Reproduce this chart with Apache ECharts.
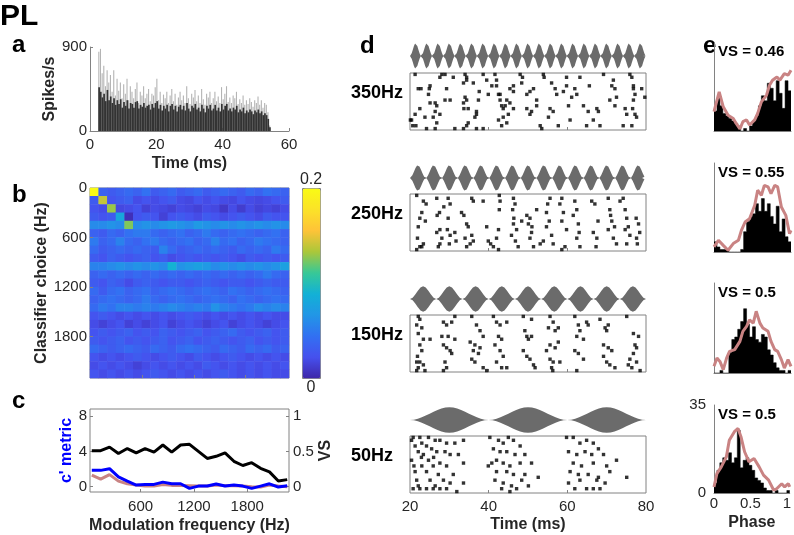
<!DOCTYPE html>
<html>
<head>
<meta charset="utf-8">
<script src="https://cdn.jsdelivr.net/npm/echarts@6/dist/echarts.min.js"></script>
<style>
  html, body { margin: 0; padding: 0; background: #fff; }
  #chart { width: 794px; height: 535px; }
</style>
</head>
<body>
<div id="chart"></div>
<script>
// ---------- data ----------

// a: PSTH, 0.5 ms bins starting at 2.5 ms
const psthStart = 2.5
const psthBin = 0.5
const psthPeak = [
  850, 880, 620, 700, 480, 650, 520, 600, 420, 650,
  380, 560, 430, 520, 350, 500, 400, 560, 330, 480,
  420, 350, 450, 520, 300, 420, 380, 480, 350, 400,
  450, 320, 400, 380, 470, 560, 330, 420, 300, 390,
  350, 420, 300, 380, 450, 320, 400, 280, 360, 420,
  330, 380, 300, 480, 350, 290, 400, 360, 440, 320,
  380, 300, 450, 340, 280, 400, 360, 420, 300, 350,
  420, 320, 370, 300, 470, 340, 400, 480, 310, 360,
  300, 380, 350, 420, 290, 340, 300, 380, 280, 330,
  290, 350, 310, 260, 330, 300, 370, 280, 330, 250,
  300, 280, 200, 60
]
const psthBody = [
  470, 420, 360, 400, 320, 440, 330, 370, 300, 350,
  280, 330, 290, 340, 250, 310, 270, 330, 240, 300,
  290, 250, 310, 320, 240, 280, 260, 300, 250, 270,
  280, 230, 290, 250, 300, 320, 240, 280, 220, 270,
  240, 280, 210, 270, 290, 230, 270, 210, 260, 280,
  230, 270, 220, 300, 240, 210, 270, 250, 290, 230,
  250, 210, 280, 240, 200, 270, 240, 280, 220, 240,
  280, 220, 250, 210, 290, 230, 270, 290, 220, 240,
  210, 250, 230, 270, 200, 230, 210, 250, 190, 220,
  200, 230, 210, 180, 220, 200, 230, 190, 210, 170,
  190, 170, 130, 40
]

// b: classifier confusion matrix (rows = classifier choice, cols = modulation freq)
const modFreqs = [50, 150, 250, 350, 450, 550, 650, 750, 850, 950, 1050, 1150,
  1250, 1350, 1450, 1550, 1650, 1750, 1850, 1950, 2050, 2150, 2250]
const confusion = [
  [.20, .035, .03, .035, .04, .035, .045, .03, .035, .04, .03, .035, .04, .03, .035, .04, .035, .03, .04, .035, .045, .04, .035],
  [.03, .14, .025, .03, .035, .02, .025, .02, .025, .03, .02, .018, .025, .02, .025, .02, .018, .025, .02, .018, .02, .025, .03],
  [.025, .02, .13, .018, .02, .025, .015, .02, .018, .015, .02, .018, .015, .02, .018, .01, .02, .012, .02, .015, .018, .015, .02],
  [.03, .025, .03, .08, .005, .025, .03, .025, .015, .025, .03, .025, .02, .03, .025, .02, .025, .03, .025, .02, .03, .025, .025],
  [.06, .06, .065, .06, .125, .06, .065, .06, .065, .07, .065, .06, .07, .065, .06, .065, .06, .065, .06, .065, .06, .065, .06],
  [.035, .03, .04, .035, .045, .05, .05, .04, .035, .04, .045, .035, .04, .05, .04, .035, .04, .045, .04, .035, .04, .045, .035],
  [.05, .035, .04, .055, .04, .035, .045, .05, .04, .035, .04, .045, .035, .04, .055, .04, .045, .035, .04, .05, .045, .04, .035],
  [.04, .03, .035, .04, .035, .04, .035, .03, .055, .04, .03, .035, .04, .035, .04, .035, .03, .04, .035, .04, .035, .05, .04],
  [.03, .025, .035, .03, .025, .03, .035, .025, .03, .02, .025, .03, .025, .03, .025, .03, .025, .02, .03, .025, .03, .025, .03],
  [.055, .055, .06, .065, .06, .065, .06, .065, .06, .09, .065, .07, .075, .07, .06, .065, .06, .065, .06, .065, .06, .065, .075],
  [.035, .04, .035, .04, .035, .04, .035, .04, .035, .04, .035, .04, .035, .04, .035, .04, .035, .04, .035, .04, .05, .04, .035],
  [.03, .025, .035, .03, .02, .03, .035, .03, .025, .03, .03, .025, .03, .035, .03, .025, .03, .03, .025, .03, .035, .03, .03],
  [.04, .03, .04, .045, .035, .04, .045, .035, .04, .045, .04, .035, .04, .045, .04, .035, .045, .04, .035, .04, .045, .04, .035],
  [.035, .04, .045, .04, .035, .04, .05, .04, .035, .04, .045, .04, .035, .04, .045, .04, .035, .045, .04, .035, .04, .045, .04],
  [.04, .05, .045, .055, .055, .05, .055, .05, .055, .06, .055, .05, .055, .05, .065, .055, .05, .045, .05, .06, .055, .06, .055],
  [.025, .03, .025, .02, .025, .02, .025, .02, .025, .02, .025, .03, .025, .02, .025, .02, .025, .02, .025, .02, .025, .02, .02],
  [.02, .015, .02, .025, .015, .02, .015, .02, .025, .015, .02, .025, .02, .015, .02, .025, .015, .02, .025, .02, .015, .02, .025],
  [.025, .03, .025, .03, .035, .025, .03, .025, .035, .03, .025, .03, .035, .025, .03, .035, .04, .03, .025, .03, .035, .025, .03],
  [.03, .025, .03, .035, .025, .03, .025, .03, .035, .025, .03, .035, .025, .03, .035, .03, .025, .03, .035, .025, .03, .025, .03],
  [.04, .035, .03, .035, .04, .035, .03, .04, .035, .03, .04, .045, .04, .035, .03, .04, .035, .03, .04, .035, .04, .03, .035],
  [.025, .02, .025, .02, .025, .03, .025, .02, .025, .03, .025, .02, .03, .025, .02, .025, .03, .025, .02, .025, .02, .025, .02],
  [.02, .025, .02, .025, .02, .015, .02, .025, .02, .025, .02, .025, .02, .03, .025, .02, .025, .02, .025, .02, .025, .02, .025],
  [.025, .02, .025, .02, .025, .02, .025, .03, .025, .02, .025, .02, .025, .02, .025, .03, .025, .02, .025, .02, .025, .02, .02]
]

// c: c' metric (blue), shuffled (pink), vector strength (black)
const cMetric = [1.85, 1.85, 2.04, 1.11, 0.63, 0.19, 0.26, 0.26, 0.52, 0.33, 0.33, -0.19,
  0.07, 0.07, 0.3, 0.07, 0.19, 0.07, -0.19, 0.07, 0.33, -0.04, 0.11]
const cShuffled = [1.3, 0.85, 1.37, 0.63, 0.33, 0.19, 0.07, 0.07, 0.26, 0.15, 0.15, 0.11,
  0.07, 0.07, 0.19, 0.11, 0.11, 0.07, 0, -0.04, 0.19, 0.07, 0]
const vsCurve = [0.51, 0.51, 0.56, 0.47, 0.54, 0.48, 0.54, 0.49, 0.59, 0.49, 0.59, 0.6,
  0.5, 0.4, 0.43, 0.48, 0.36, 0.3, 0.34, 0.26, 0.21, 0.08, 0.1]

// d: stimulus envelopes and spike rasters, [time ms, trial]
const rasterLabels = ['350Hz', '250Hz', '150Hz', '50Hz']
const envFreqs = [350, 250, 150, 50]
const envCycle = [0, 0.02, 0.1, 0.21, 0.35, 0.5, 0.65, 0.79, 0.9, 0.98, 1,
  0.98, 0.9, 0.79, 0.65, 0.5, 0.35, 0.21, 0.1, 0.02]
const raster350 = [
  [21.3, 1], [22.1, 6], [22.8, 6], [24.9, 6], [24.7, 8], [25.1, 5], [22.5, 13], [21.3, 15], [20.4, 17],
  [21.5, 19], [20.7, 19], [24.2, 20], [23.8, 16], [25.1, 11], [26.4, 11], [26.4, 14], [27.6, 2], [28.9, 1],
  [28.1, 1], [29.3, 6], [31.0, 2], [30.2, 10], [28.9, 10], [26.8, 12], [25.9, 16], [27.6, 15], [26.8, 18],
  [26.4, 20], [31.4, 20], [34.0, 1], [34.4, 2], [33.6, 4], [34.4, 3], [36.1, 4], [34.0, 9], [34.4, 10],
  [33.6, 11], [33.7, 13], [34.8, 13], [36.9, 14], [36.9, 15], [36.5, 16], [37.6, 7], [37.4, 10], [38.6, 1],
  [39.5, 3], [39.9, 8], [40.8, 5], [38.6, 20], [36.9, 20], [34.8, 18], [33.6, 20], [34.4, 19], [41.6, 1],
  [42.0, 3], [42.0, 5], [42.5, 8], [42.9, 8], [42.9, 10], [43.3, 12], [43.7, 13], [44.2, 12], [45.4, 11],
  [46.3, 13], [45.0, 15], [43.7, 16], [42.5, 17], [44.6, 18], [43.3, 19], [45.4, 6], [46.3, 7], [44.6, 10],
  [46.3, 5], [48.0, 1], [48.6, 2], [48.4, 4], [49.7, 8], [50.5, 7], [49.7, 13], [50.9, 14], [50.5, 15],
  [52.2, 10], [52.2, 12], [51.4, 6], [53.9, 1], [54.1, 2], [56.0, 4], [56.9, 6], [57.3, 8], [55.6, 13],
  [56.4, 14], [53.1, 19], [53.5, 20], [55.2, 16], [57.7, 19], [59.8, 2], [59.8, 5], [59.0, 7], [60.3, 12],
  [61.9, 6], [62.4, 8], [61.1, 9], [60.7, 17], [63.2, 2], [65.6, 5], [64.1, 12], [65.3, 14], [64.9, 19],
  [66.6, 17], [67.5, 13], [67.9, 14], [68.3, 19], [69.2, 1], [70.8, 10], [71.7, 3], [71.3, 5], [72.1, 6],
  [72.5, 9], [72.1, 12], [74.7, 13], [75.1, 15], [74.2, 19], [75.9, 1], [76.4, 2], [76.8, 5], [76.8, 6],
  [77.2, 8], [76.8, 10], [76.6, 13], [77.2, 15], [77.6, 16], [76.4, 19], [78.9, 6], [79.7, 9], [20.1, 17]
]
const raster250 = [
  [21.7, 1], [23.4, 3], [24.1, 4], [23.0, 7], [22.5, 9], [22.1, 12], [21.9, 16], [22.5, 19], [21.7, 20],
  [23.0, 19], [23.4, 18], [26.8, 2], [27.5, 7], [26.9, 8], [27.6, 13], [26.8, 14], [28.1, 16], [27.6, 18],
  [27.2, 19], [29.7, 2], [30.2, 4], [29.7, 9], [29.5, 13], [30.2, 15], [30.0, 18], [31.4, 14], [31.7, 17],
  [33.1, 7], [33.7, 8], [34.4, 11], [34.8, 12], [35.7, 2], [36.1, 3], [35.7, 15], [36.1, 17], [35.3, 18],
  [34.4, 19], [38.6, 3], [39.5, 12], [39.9, 17], [40.5, 18], [41.2, 19], [42.0, 16], [42.5, 20], [42.7, 1],
  [42.9, 3], [42.7, 6], [42.5, 13], [46.3, 2], [46.7, 4], [46.1, 6], [46.4, 9], [46.3, 11], [47.1, 13],
  [45.8, 15], [47.5, 19], [48.4, 10], [49.7, 8], [50.5, 9], [50.1, 11], [50.9, 14], [50.5, 16], [51.4, 19],
  [52.2, 6], [53.1, 18], [54.7, 7], [55.4, 10], [54.7, 12], [56.0, 15], [53.9, 17], [56.4, 18], [55.6, 2],
  [58.6, 2], [58.1, 4], [59.0, 7], [58.6, 10], [59.8, 13], [59.4, 19], [58.6, 20], [61.9, 3], [62.4, 6],
  [61.5, 8], [62.8, 11], [62.4, 16], [63.2, 19], [66.2, 3], [67.0, 4], [66.6, 14], [67.5, 16], [67.3, 19],
  [70.4, 2], [70.8, 6], [71.0, 8], [71.3, 10], [70.4, 13], [71.7, 16], [72.5, 18], [73.4, 3], [74.7, 6],
  [75.1, 9], [75.5, 12], [74.7, 13], [75.9, 15], [77.5, 9], [78.1, 11], [77.6, 16], [77.8, 18], [75.1, 18],
  [74.2, 2], [23.9, 10], [28.6, 5], [34.0, 16], [46.8, 17], [51.0, 12], [55.0, 4], [63.0, 14], [67.8, 10],
  [72.0, 12], [78.4, 14]
]
const raster150 = [
  [22.1, 1], [22.5, 2], [21.7, 4], [23.0, 5], [22.1, 7], [23.4, 9], [25.1, 9], [22.5, 11], [23.0, 13],
  [21.9, 15], [21.7, 17], [22.5, 17], [22.1, 19], [23.4, 18], [23.8, 20], [21.7, 20], [28.5, 3], [29.3, 4],
  [30.6, 3], [28.1, 8], [29.7, 8], [31.4, 9], [28.5, 11], [29.3, 12], [30.2, 13], [30.6, 14], [28.9, 17],
  [29.3, 19], [28.5, 20], [31.4, 1], [35.7, 1], [36.9, 4], [37.8, 6], [38.6, 8], [35.3, 10], [36.5, 11],
  [37.8, 12], [36.1, 13], [37.4, 14], [35.7, 16], [36.5, 17], [38.6, 19], [39.5, 20], [41.2, 1], [42.0, 3],
  [42.9, 4], [44.6, 3], [42.5, 8], [43.3, 9], [41.6, 11], [42.9, 13], [43.7, 15], [42.0, 17], [43.3, 19],
  [44.6, 19], [48.8, 1], [49.2, 6], [49.7, 8], [50.9, 8], [50.1, 9], [48.8, 13], [49.7, 15], [50.5, 16],
  [51.4, 18], [51.8, 19], [50.9, 2], [55.6, 1], [56.4, 3], [55.2, 5], [56.9, 6], [57.7, 5], [55.6, 11],
  [56.9, 12], [57.7, 10], [55.6, 16], [56.4, 17], [56.0, 19], [56.3, 20], [58.1, 17], [54.7, 13], [61.9, 1],
  [62.8, 4], [63.2, 6], [64.9, 3], [62.4, 8], [64.1, 9], [61.9, 13], [62.8, 14], [64.1, 16], [62.4, 20],
  [65.3, 4], [68.3, 2], [69.6, 5], [70.0, 6], [70.4, 4], [69.2, 11], [70.4, 12], [71.3, 13], [69.2, 15],
  [70.0, 17], [72.1, 19], [70.8, 18], [75.1, 1], [76.8, 7], [78.1, 8], [77.2, 11], [77.6, 12], [76.8, 14],
  [75.9, 16], [77.6, 17], [76.4, 19], [78.5, 20], [75.5, 18]
]
const raster50 = [
  [20.8, 1], [22.5, 1], [24.7, 1], [26.4, 2], [27.6, 2], [29.3, 3], [31.4, 3], [33.6, 2], [21.3, 4], [23.0, 3],
  [24.2, 4], [25.5, 5], [22.1, 6], [23.4, 7], [26.8, 6], [28.9, 6], [30.2, 7], [32.3, 7], [20.4, 9], [24.7, 9],
  [27.6, 10], [23.0, 11], [25.9, 11], [29.3, 11], [33.6, 10], [21.3, 13], [24.2, 13], [27.2, 14], [31.0, 14],
  [21.7, 16], [25.1, 16], [28.5, 16], [30.2, 17], [33.6, 17], [20.8, 19], [22.5, 19], [24.2, 19], [25.9, 19],
  [27.6, 19], [29.3, 19], [31.9, 20], [22.1, 18], [26.4, 18], [20.4, 2], [22.9, 8], [26.0, 8], [21.0, 11],
  [40.3, 1], [42.5, 2], [43.7, 3], [45.0, 1], [46.3, 2], [48.0, 4], [41.2, 5], [42.9, 6], [44.6, 6], [46.7, 7],
  [49.2, 7], [42.0, 9], [40.8, 10], [43.7, 10], [45.4, 11], [48.0, 10], [50.9, 10], [42.0, 13], [44.6, 13],
  [46.3, 14], [49.2, 14], [52.6, 15], [41.6, 16], [43.7, 17], [45.8, 18], [48.4, 16], [43.3, 19], [45.4, 20],
  [47.1, 19], [50.1, 18], [39.9, 11],
  [59.8, 1], [61.5, 1], [63.2, 3], [64.9, 2], [66.6, 3], [67.9, 5], [60.3, 6], [62.4, 7], [64.5, 6], [66.2, 7],
  [69.2, 7], [61.5, 10], [63.6, 11], [66.6, 10], [70.0, 11], [72.5, 9], [60.7, 13], [62.8, 14], [65.3, 14],
  [67.9, 15], [70.8, 13], [75.1, 15], [60.3, 17], [61.9, 19], [64.9, 19], [66.6, 19], [68.3, 19], [69.6, 17],
  [63.2, 16], [67.5, 16]
]
const rasters = [raster350, raster250, raster150, raster50]

// e: phase histograms (bin left edges, 0.04 wide) and smoothed fits
const phaseEdges = [0, 0.04, 0.08, 0.12, 0.16, 0.2, 0.24, 0.28, 0.32, 0.36, 0.4, 0.44, 0.48,
  0.52, 0.56, 0.6, 0.64, 0.68, 0.72, 0.76, 0.8, 0.84, 0.88, 0.92, 0.96, 1.0, 1.04]
const phaseHist350 = [8, 13, 10, 7, 6, 5, 4, 3, 2, 0, 1, 0, 2, 4, 6, 10, 14, 12, 19, 17, 12, 20, 15, 9, 20, 16]
const phaseHist250 = [4, 2, 1, 1, 1, 0, 0, 0, 0, 1, 8, 12, 14, 15, 19, 16, 21, 16, 19, 14, 11, 18, 8, 13, 6, 4]
const phaseHist150 = [0, 0, 1, 0, 0, 8, 13, 14, 17, 20, 25, 19, 14, 18, 13, 12, 15, 14, 9, 7, 4, 2, 1, 1, 0, 1]
const phaseHist50 = [4, 9, 12, 14, 13, 16, 12, 14, 25, 10, 13, 14, 11, 9, 6, 5, 4, 2, 1, 1, 0, 1, 0, 0, 0, 1]
const phaseFit350 = [[0, 7.7], [0.07, 15.6], [0.125, 9.6], [0.19, 6.3], [0.26, 5], [0.3, 3], [0.35, 0.8],
  [0.39, 3.7], [0.44, 4.4], [0.48, 2.4], [0.55, 4.4], [0.59, 7], [0.64, 11.6], [0.71, 14.3], [0.75, 18.2],
  [0.79, 20.2], [0.85, 21.5], [0.89, 20.2], [0.95, 22.8], [1.0, 22.2], [1.04, 24.2]]
const phaseFit250 = [[0, 2], [0.06, 4.6], [0.125, 2.6], [0.19, 0.7], [0.26, 3.3], [0.33, 4.6], [0.37, 8.5],
  [0.42, 11.8], [0.48, 13.1], [0.55, 18.4], [0.59, 24.3], [0.64, 22.3], [0.68, 26.2], [0.73, 25.6],
  [0.77, 22.9], [0.82, 26.2], [0.86, 25.6], [0.91, 17.7], [0.97, 14.4], [1.02, 7.2], [1.04, 8.5]]
const phaseFit150 = [[0, 2.6], [0.04, 5.8], [0.08, 4.5], [0.125, 1.3], [0.17, 5.8], [0.21, 8.4], [0.28, 9.1],
  [0.35, 12.3], [0.39, 16.2], [0.44, 18.1], [0.48, 20.7], [0.53, 19.4], [0.57, 24], [0.62, 19.4],
  [0.66, 17.5], [0.73, 16.2], [0.77, 12.3], [0.82, 9.1], [0.86, 8.4], [0.91, 5.2], [0.95, 1.9], [1.0, 5.2],
  [1.04, 2.6]]
const phaseFit50 = [[0, 2.4], [0.04, 7.7], [0.1, 10.4], [0.17, 14.4], [0.21, 21], [0.28, 24.4], [0.33, 25.7],
  [0.37, 22.4], [0.42, 16.4], [0.48, 12.4], [0.55, 13.7], [0.62, 10.4], [0.68, 7.1], [0.75, 5.1],
  [0.82, 1.1], [0.86, 1.7], [0.93, 3.7], [0.97, 2.4], [1.02, 3.7], [1.04, 2.4]]
const phaseHists = [phaseHist350, phaseHist250, phaseHist150, phaseHist50]
const phaseFits = [phaseFit350, phaseFit250, phaseFit150, phaseFit50]
const vsLabels = ['VS = 0.46', 'VS = 0.55', 'VS = 0.5', 'VS = 0.5']

// ---------- styling ----------
const FONT = '"Liberation Sans", Arial, sans-serif'
const INK = '#262626'
const GREY = '#828282'
const PINK = '#c98383'
const parula = ['#3e26a8', '#4650ee', '#3270f2', '#2296e6', '#12b1d6', '#37c897', '#abc739', '#fec338', '#fbe228', '#f9fb14']
const plain = v => String(v)

// shallow merge, one level deep for nested option objects
function merge(base, extra) {
  const out = Object.assign({}, base)
  Object.keys(extra || {}).forEach(k => {
    const v = extra[k]
    if (v && typeof v === 'object' && !Array.isArray(v) && base[k] && typeof base[k] === 'object') {
      out[k] = Object.assign({}, base[k], v)
    } else {
      out[k] = v
    }
  })
  return out
}

function valueAxis(gridIndex, extra) {
  return merge({
    type: 'value',
    gridIndex,
    splitLine: { show: false },
    axisLine: { show: true, onZero: false, lineStyle: { color: GREY, width: 1 } },
    axisTick: { show: true, inside: true, length: 3, lineStyle: { color: GREY } },
    axisLabel: { show: true, color: INK, fontSize: 15, fontFamily: FONT, margin: 6, formatter: plain },
    nameLocation: 'middle',
    nameTextStyle: { color: INK, fontSize: 16, fontWeight: 'bold', fontFamily: FONT }
  }, extra)
}

function hiddenAxis(gridIndex, extra) {
  return merge({ type: 'value', gridIndex, show: false, splitLine: { show: false } }, extra)
}

const grids = []
const xAxes = []
const yAxes = []
const series = []
const addGrid = g => grids.push(g) - 1
const addX = a => xAxes.push(a) - 1
const addY = a => yAxes.push(a) - 1
const boxed = { show: true, borderColor: GREY, borderWidth: 1, backgroundColor: 'transparent' }

// ---------- a: PSTH ----------
const gA = addGrid({ left: 90, top: 47, width: 199, height: 84 })
const xA = addX(valueAxis(gA, { min: 0, max: 60, interval: 20, name: 'Time (ms)', nameGap: 25 }))
const yA = addY(valueAxis(gA, {
  min: 0, max: 900, interval: 900, name: 'Spikes/s', nameGap: 30,
  axisLabel: { margin: 3 }
}))
const psthTimes = psthPeak.map((_, i) => psthStart + psthBin * (i + 0.5))
series.push({
  type: 'bar', xAxisIndex: xA, yAxisIndex: yA, barWidth: 1.1, barGap: '-100%',
  data: psthPeak.map((v, i) => [psthTimes[i], v]), itemStyle: { color: '#b4b4b4' }
})
series.push({
  type: 'bar', xAxisIndex: xA, yAxisIndex: yA, barWidth: 1.7, barGap: '-100%',
  data: psthBody.map((v, i) => [psthTimes[i], v]), itemStyle: { color: '#333333' }
})

// ---------- b: confusion matrix ----------
const gB = addGrid(Object.assign({ left: 90, top: 188, width: 199, height: 190 }, boxed))
const xBc = addX({ type: 'category', gridIndex: gB, data: modFreqs.map(String), show: false })
const yBc = addY({ type: 'category', gridIndex: gB, data: modFreqs.map(String), inverse: true, show: false })
addX(valueAxis(gB, {
  min: 0, max: 2300, position: 'bottom', z: 5,
  axisLine: { show: false }, axisLabel: { show: false },
  axisTick: { customValues: [600, 1200, 1800] }
}))
addY(valueAxis(gB, {
  min: 0, max: 2300, inverse: true, position: 'left', z: 5,
  axisLine: { show: false },
  axisLabel: { customValues: [0, 600, 1200, 1800], margin: 3 },
  axisTick: { customValues: [600, 1200, 1800] },
  name: 'Classifier choice (Hz)', nameGap: 40
}))
const heatData = []
confusion.forEach((row, r) => row.forEach((v, c) => heatData.push([c, r, v])))
series.push({ type: 'heatmap', xAxisIndex: xBc, yAxisIndex: yBc, data: heatData })
const heatSeries = series.length - 1

// ---------- c: c' metric and VS ----------
const gC = addGrid(Object.assign({ left: 90, top: 409, width: 199, height: 83 }, boxed))
const xC = addX(valueAxis(gC, {
  min: 30, max: 2270, axisLine: { show: false },
  axisLabel: { customValues: [600, 1200, 1800], margin: 7 },
  axisTick: { customValues: [600, 1200, 1800] },
  name: 'Modulation frequency (Hz)', nameGap: 26
}))
const yC = addY(valueAxis(gC, {
  position: 'left', min: -0.6, max: 8.8, axisLine: { show: false },
  axisLabel: { customValues: [0, 4, 8], margin: 3 },
  axisTick: { customValues: [0, 4, 8] },
  name: "c' metric", nameGap: 14,
  nameTextStyle: { color: '#0000ff' }
}))
const yC2 = addY(valueAxis(gC, {
  position: 'right', min: -0.075, max: 1.1, axisLine: { show: false },
  axisLabel: { customValues: [0, 0.5, 1], margin: 4 },
  axisTick: { customValues: [0, 0.5, 1] },
  name: 'VS', nameGap: 28
}))
const lineC = (data, axis, color) => ({
  type: 'line', xAxisIndex: xC, yAxisIndex: axis, showSymbol: false,
  data: modFreqs.map((f, i) => [f, data[i]]),
  lineStyle: { color, width: 3 }, itemStyle: { color }
})
series.push(lineC(cShuffled, yC, PINK))
series.push(lineC(cMetric, yC, '#0000ff'))
series.push(lineC(vsCurve, yC2, '#000'))

// ---------- d: envelopes + rasters ----------
const envTops = [43, 165, 286, 407]
const rasterTops = [73, 194, 315, 436]

function envelope(freq, sign) {
  const period = 1000 / freq
  const out = []
  const cycles = Math.round(60 / period)
  for (let k = 0; k < cycles; k++) {
    envCycle.forEach((a, j) => out.push([20 + (k + j / envCycle.length) * period, sign * a]))
  }
  out.push([80, 0])
  return out
}

envFreqs.forEach((freq, i) => {
  const gE = addGrid({ left: 410, top: envTops[i], width: 236, height: 26 })
  const xE = addX(hiddenAxis(gE, { min: 20, max: 80 }))
  const yE = addY(hiddenAxis(gE, { min: -1.02, max: 1.02 }))
  ;[1, -1].forEach(sign => series.push({
    type: 'line', xAxisIndex: xE, yAxisIndex: yE, showSymbol: false, smooth: false,
    data: envelope(freq, sign),
    lineStyle: { width: 0 }, areaStyle: { color: '#6b6b6b', opacity: 1 }
  }))

  const last = i === envFreqs.length - 1
  const gR = addGrid(Object.assign({ left: 410, top: rasterTops[i], width: 236, height: 57 }, boxed))
  const xR = addX(valueAxis(gR, {
    min: 20, max: 80, position: 'bottom', axisLine: { show: false },
    axisTick: { customValues: [40, 60] },
    axisLabel: last ? { customValues: [20, 40, 60, 80], margin: 6 } : { show: false },
    name: last ? 'Time (ms)' : '', nameGap: 24
  }))
  const yR = addY(hiddenAxis(gR, { min: 0.5, max: 20.5, inverse: true }))
  series.push({
    type: 'scatter', xAxisIndex: xR, yAxisIndex: yR, symbol: 'rect', symbolSize: 3.4,
    data: rasters[i], itemStyle: { color: '#000' }
  })
})

// ---------- e: phase histograms ----------
const histTops = [43, 163, 283, 405]
const histHeights = [88, 89, 90, 88]
phaseHists.forEach((hist, i) => {
  const last = i === phaseHists.length - 1
  const gH = addGrid({ left: 714, top: histTops[i], width: 77, height: histHeights[i] })
  const xH = addX(valueAxis(gH, {
    min: 0, max: 1.04, position: 'bottom',
    axisTick: last ? { customValues: [0.5] } : { show: false },
    axisLabel: last ? { customValues: [0, 0.5, 1], margin: 3 } : { show: false },
    name: last ? 'Phase' : '', nameGap: 22
  }))
  const yH = addY(valueAxis(gH, {
    min: 0, max: 35, position: 'left',
    axisTick: { show: false },
    axisLabel: last ? { customValues: [0, 35], margin: 8 } : { show: false }
  }))
  // histogram drawn as a filled step outline over the bin edges
  const steps = phaseEdges.map((e, k) => [e, hist[Math.min(k, hist.length - 1)]])
  series.push({
    type: 'line', xAxisIndex: xH, yAxisIndex: yH, step: 'end', showSymbol: false,
    data: steps, lineStyle: { color: '#000', width: 0.5 },
    areaStyle: { color: '#000', opacity: 1 }
  })
  series.push({
    type: 'line', xAxisIndex: xH, yAxisIndex: yH, showSymbol: false,
    data: phaseFits[i], lineStyle: { color: PINK, width: 3 }, z: 3
  })
})

// ---------- text ----------
function label(text, x, y, size, opts) {
  return merge({
    type: 'text', x, y, silent: true,
    style: {
      text, fill: INK, textAlign: 'left', textVerticalAlign: 'middle',
      font: `bold ${size}px ${FONT}`
    }
  }, opts)
}
const texts = [
  label('PL', 0, 17, 30, { style: { fill: '#000' } }),
  label('a', 12, 45, 24, { style: { fill: '#000' } }),
  label('b', 12, 195, 24, { style: { fill: '#000' } }),
  label('c', 12, 401, 24, { style: { fill: '#000' } }),
  label('d', 360, 46, 24, { style: { fill: '#000' } }),
  label('e', 703, 46, 24, { style: { fill: '#000' } }),
  label('0.2', 311, 180, 16, { style: { textAlign: 'center', font: `16px ${FONT}` } }),
  label('0', 311, 388, 16, { style: { textAlign: 'center', font: `16px ${FONT}` } })
]
rasterLabels.forEach((t, i) => texts.push(label(t, 351, rasterTops[i] + 20, 18, { style: { fill: '#000' } })))
vsLabels.forEach((t, i) => texts.push(label(t, 718, [52, 173, 293, 415][i], 15, { style: { fill: '#000' } })))

// ---------- chart ----------
const chart = echarts.init(document.getElementById('chart'))
chart.setOption({
  animation: false,
  textStyle: { fontFamily: FONT },
  grid: grids,
  xAxis: xAxes,
  yAxis: yAxes,
  visualMap: {
    type: 'continuous', min: 0, max: 0.2, seriesIndex: heatSeries,
    calculable: false, hoverLink: false, orient: 'vertical',
    left: 302, top: 188, itemWidth: 18, itemHeight: 190, padding: 0,
    borderColor: GREY, borderWidth: 1,
    inRange: { color: parula }
  },
  series,
  graphic: texts
})
</script>
</body>
</html>
